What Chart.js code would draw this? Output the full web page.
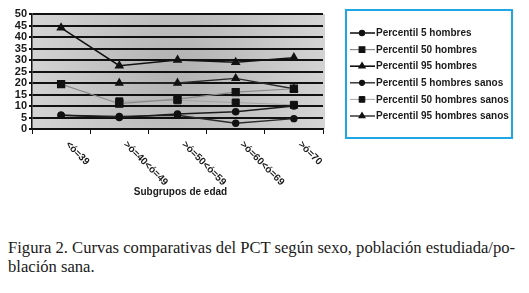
<!DOCTYPE html>
<html>
<head>
<meta charset="utf-8">
<script src="https://cdn.jsdelivr.net/npm/chart.js@4.4.0/dist/chart.umd.min.js"></script>
<style>
  html, body { margin: 0; padding: 0; background: #fff; }
  body { width: 529px; height: 293px; position: relative; overflow: hidden; }
  #wrap { position: absolute; left: 0; top: 0; width: 529px; height: 210px; }
  #caption {
    position: absolute; left: 8px; top: 238px; width: 521px;
    font-family: "Liberation Serif", "DejaVu Serif", serif;
    font-size: 16.6px; line-height: 19px; color: #1a1a1a; white-space: nowrap;
  }
</style>
</head>
<body>
<div id="wrap"><canvas id="chart" width="529" height="210"></canvas></div>
<div id="caption">Figura 2. Curvas comparativas del PCT según sexo, población estudiada/po-<br>blación sana.</div>
<script>
// categorías (eje X) y ticks del eje Y
const categories = ["<ó=39", ">ó=40<ó=49", ">ó=50<ó=59", ">ó=60<ó=69", ">ó=70"];
const yTicks = [0, 5, 10, 15, 20, 25, 30, 35, 40, 45, 50];
const xTitle = "Subgrupos de edad";

// series
const p5Hombres = [6, 5, 6.5, 7.5, 10];
const p50Hombres = [19.5, 11, 13, 16, 17.5];
const p95Hombres = [44, 27.5, 30, 29, 31];
const p5Sanos = [6, 5.5, 6, 2.5, 4.5];
const p50Sanos = [null, 12, 12.5, 11.5, 10.5];
const p95Sanos = [null, 20, 20, 22, 17.5];

const seriesNames = [
    "Percentil 5 hombres", "Percentil 50 hombres", "Percentil 95 hombres",
    "Percentil 5 hombres sanos", "Percentil 50 hombres sanos", "Percentil 95 hombres sanos"
];

function mkSet(label, data, color, style, radius, width) {
    return {
        label, data,
        borderColor: color, backgroundColor: "#111",
        pointBorderColor: "#111", pointBackgroundColor: "#111",
        borderWidth: width, pointStyle: style, pointRadius: radius,
        pointHoverRadius: radius, tension: 0, spanGaps: false
    };
}

const datasets = [
    mkSet(seriesNames[0], p5Hombres, "#1a1a1a", "circle", 3, 1.6),
    mkSet(seriesNames[1], p50Hombres, "#8a8a8a", "rect", 5, 1.2),
    mkSet(seriesNames[2], p95Hombres, "#111", "triangle", 4, 1.6),
    mkSet(seriesNames[3], p5Sanos, "#2a2a2a", "circle", 3, 1.4),
    mkSet(seriesNames[4], p50Sanos, "#a5a5a5", "rect", 5, 1),
    mkSet(seriesNames[5], p95Sanos, "#2a2a2a", "triangle", 4, 1.4)
];

// 🎨 fondo gris del área de trazado
const plotBg = {
    id: "plotBg",
    beforeDraw(chart) {
        const { ctx, chartArea: a } = chart;
        const cx = (a.left + a.right) / 2, cy = (a.top + a.bottom) / 2;
        const g = ctx.createRadialGradient(cx, cy, 10, cx, cy, (a.right - a.left) * 0.6);
        g.addColorStop(0, "#b4b4b4");
        g.addColorStop(1, "#d9d9d9");
        ctx.save();
        ctx.fillStyle = g;
        ctx.fillRect(a.left, a.top, a.right - a.left + 2, a.bottom - a.top);
        ctx.restore();
    }
};

// etiquetas X giradas hacia abajo + título + leyenda con marco azul
const extras = {
    id: "extras",
    afterDraw(chart) {
        const { ctx } = chart;
        const xs = chart.scales.x;
        ctx.save();
        ctx.fillStyle = "#1a1a1a";
        ctx.font = "bold 10px 'Liberation Sans', Arial, sans-serif";
        ctx.textAlign = "left";
        ctx.textBaseline = "middle";
        categories.forEach((c, i) => {
            const x = xs.getPixelForValue(i);
            ctx.save();
            ctx.translate(x + 6, xs.top + 14);
            ctx.rotate(Math.PI / 4);
            ctx.fillText(c, 0, 0);
            ctx.restore();
        });
        ctx.textAlign = "center";
        ctx.fillText(xTitle, (chart.chartArea.left + chart.chartArea.right) / 2 + 3, 192);

        // leyenda
        ctx.strokeStyle = "#1ea7e4";
        ctx.lineWidth = 2;
        ctx.strokeRect(346, 10, 166, 128);
        ctx.textAlign = "left";
        ctx.font = "bold 10px 'Liberation Sans', Arial, sans-serif";
        chart.data.datasets.forEach((ds, i) => {
            const y = 33 + i * 16.6;
            ctx.strokeStyle = ds.borderColor;
            ctx.lineWidth = ds.borderWidth;
            ctx.beginPath();
            ctx.moveTo(350, y);
            ctx.lineTo(375, y);
            ctx.stroke();
            ctx.fillStyle = "#111";
            ctx.strokeStyle = "#111";
            Chart.helpers.drawPoint(ctx, {
                pointStyle: ds.pointStyle, radius: ds.pointRadius * 0.8,
                borderWidth: 1
            }, 362, y);
            ctx.fillStyle = "#1a1a1a";
            ctx.fillText(ds.label, 376, y + 0.5);
        });
        ctx.restore();
    }
};

new Chart(document.getElementById("chart"), {
    type: "line",
    data: { labels: categories, datasets },
    options: {
        responsive: false,
        animation: false,
        layout: { padding: { left: 0, right: 206, top: 14, bottom: 0 } },
        plugins: { legend: { display: false }, tooltip: { enabled: false } },
        scales: {
            x: {
                offset: true,
                grid: { offset: true, drawOnChartArea: false, color: "#111", tickLength: 5, lineWidth: 1 },
                border: { color: "#111", width: 1.5 },
                ticks: { display: false },
                afterFit(s) { s.height = 210 - 129; }
            },
            y: {
                min: 0, max: 50,
                afterBuildTicks(s) { s.ticks = yTicks.map(v => ({ value: v })); },
                grid: { color: "#111", lineWidth: 2, tickLength: 3 },
                border: { color: "#111", width: 1.5 },
                ticks: {
                    autoSkip: false, color: "#1a1a1a", padding: 2,
                    font: { family: "'Liberation Sans', Arial, sans-serif", size: 11, weight: "bold" }
                },
                afterFit(s) { s.width = 32; }
            }
        }
    },
    plugins: [plotBg, extras]
});
</script>
</body>
</html>
